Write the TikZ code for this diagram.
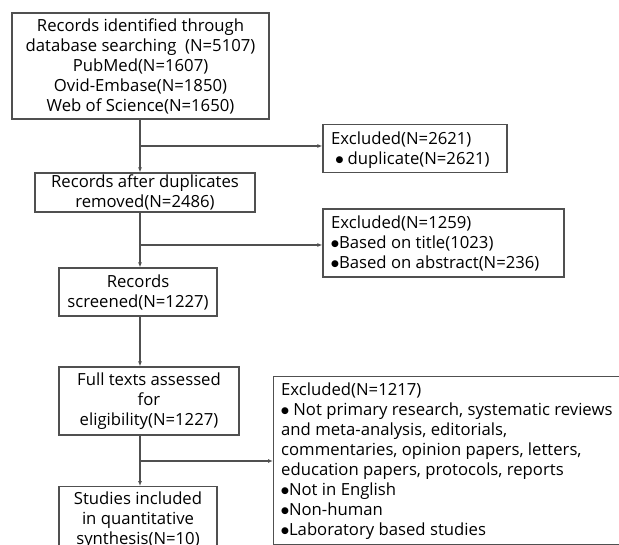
\documentclass[tikz,border=0pt]{standalone}
\usepackage{fontspec}
\setmainfont{Open Sans}
\newfontfamily\dvs{DejaVu Sans}
\usetikzlibrary{arrows.meta}
\definecolor{linegray}{RGB}{80,80,80}
\newcommand\bul{\raisebox{1.5pt}{\dvs\fontsize{9}{20}\selectfont ●}}
\tikzset{
  txt/.style={font=\fontsize{16.7}{20}\selectfont, inner sep=0pt},
  mainbox/.style={txt, draw=linegray, line width=1.2pt, align=center},
  exbox/.style={draw=linegray, line width=1.2pt, inner sep=0pt},
  conn/.style={draw=linegray, line width=1.2pt},
  arr/.style={conn, -{Latex[length=5pt,width=4pt]}}
}
\begin{document}
\begin{tikzpicture}[x=1pt,y=-1pt]
\useasboundingbox (0,0) rectangle (619,545);
\clip (0,0) rectangle (619,545);
\fill[white] (0,0) rectangle (619,545);
% main column
\node[mainbox, minimum width=257pt, minimum height=106pt] (b1) at (140.5,66)
  {Records identified through\\database searching\ \ (N=5107)\\PubMed(N=1607)\\Ovid-Embase(N=1850)\\Web of Science(N=1650)};
\node[mainbox, minimum width=220pt, minimum height=39pt] (b2) at (145,192.5)
  {Records after duplicates\\removed(N=2486)};
\node[mainbox, minimum width=158pt, minimum height=48pt] (b3) at (138,292)
  {Records\\screened(N=1227)};
\node[mainbox, minimum width=180pt, minimum height=68pt] (b4) at (149,401)
  {Full texts assessed\\for\\eligibility(N=1227)};
\node[mainbox, minimum width=158pt, minimum height=68pt, anchor=north] (b5) at (138,486)
  {Studies included\\in quantitative\\synthesis(N=10)};
% excluded boxes
\node[exbox, minimum width=184pt, minimum height=48pt] (e1) at (415,148.5) {};
\node[txt, anchor=north west, align=left] (e1t) at (331,131.5)
  {Excluded(N=2621)\\\ \bul\ duplicate(N=2621)};
\node[exbox, minimum width=241pt, minimum height=68pt] (e2) at (443.5,243) {};
\node[txt, anchor=north west, align=left] (e2t) at (331,215.5)
  {Excluded(N=1259)\\\bul Based on title(1023)\\\bul Based on abstract(N=236)};
\node[exbox, minimum width=380pt, minimum height=168pt, anchor=north west] (e3) at (273,376) {};
\node[txt, anchor=north west, align=left] (e3t) at (281,382.5)
  {Excluded(N=1217)\\\bul\ Not primary research, systematic reviews\\and meta-analysis, editorials,\\commentaries, opinion papers, letters,\\education papers, protocols, reports\\\bul Not in English\\\bul Non-human\\\bul Laboratory based studies};
% connectors
\coordinate (spine) at (140,0);
\draw[arr] (b1.south -| spine) -- (b2.north -| spine);
\draw[arr] (b2.south -| spine) -- (b3.north -| spine);
\draw[arr] (b3.south -| spine) -- (b4.north -| spine);
\draw[arr] (b4.south -| spine) -- (b5.north -| spine);
\coordinate (j1) at (140,146);
\coordinate (j2) at (140,245);
\coordinate (j3) at (140,461);
\draw[arr] (j1) -- (j1 -| e1.west);
\draw[arr] (j2) -- (j2 -| e2.west);
\draw[arr] (j3) -- (j3 -| e3.west);
\end{tikzpicture}
\end{document}
